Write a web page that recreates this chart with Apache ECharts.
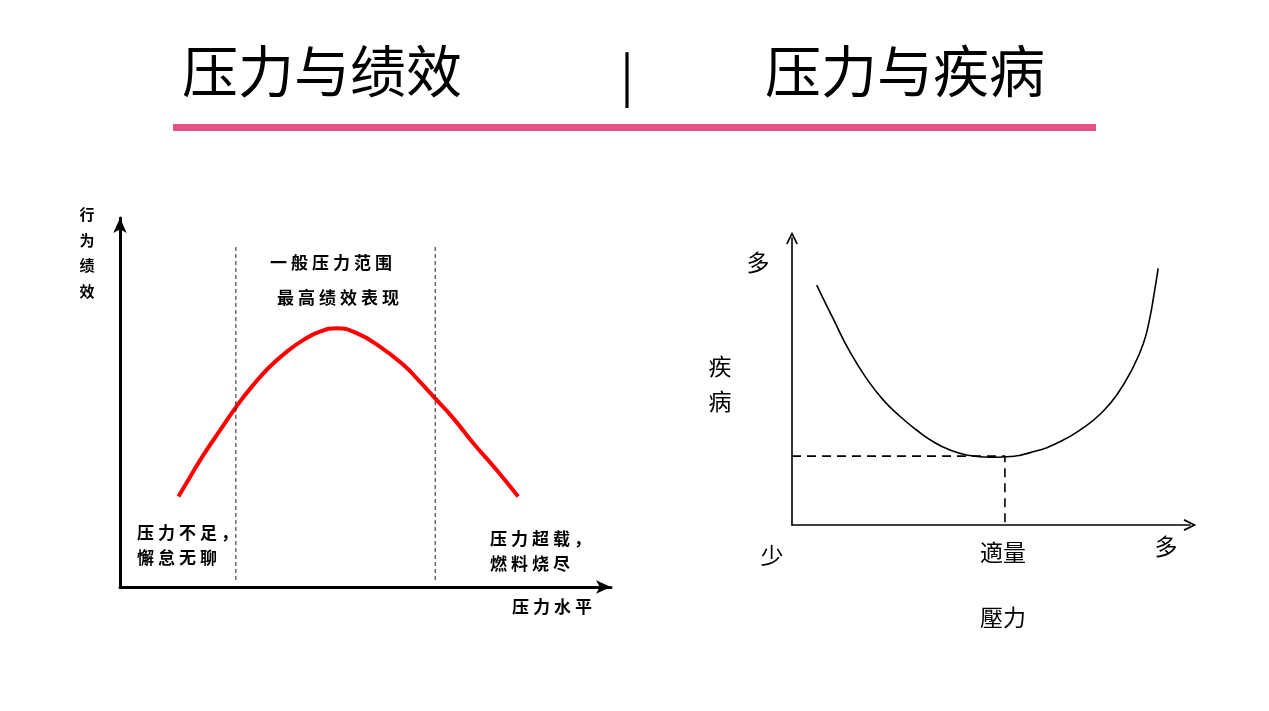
<!DOCTYPE html>
<html>
<head>
<meta charset="utf-8">
<script src="https://cdn.jsdelivr.net/npm/echarts@6/dist/echarts.min.js"></script>
<style>
  html, body { margin: 0; padding: 0; background: #fff; }
  #chart { width: 1269px; height: 711px; }
</style>
</head>
<body>
<div id="chart"></div>
<script>
// left chart: stress vs performance (x, y in 0..100)
const perfX = [11.9, 14.3, 17.0, 20.4, 23.8, 27.1, 30.5, 34.0, 37.3, 40.7, 44.1,
  48.2, 53.0, 57.7, 61.1, 64.2, 67.9, 72.0, 76.7, 81.1]
const perfY = [24.5, 29.9, 35.8, 42.5, 49.1, 54.7, 59.7, 63.8, 66.9, 69.2, 70.1,
  68.8, 65.1, 60.2, 55.6, 51.1, 45.7, 38.9, 31.7, 24.5]
const zoneX = [23.6, 64.2]
const zoneY = [1.9, 92.7]

// right chart: stress vs illness
const illX = [6.2, 10.4, 14.6, 18.8, 22.9, 27.1, 31.3, 35.5, 39.7, 43.9, 49.7,
  53.9, 60.6, 67.3, 73.2, 77.4, 81.6, 85.8, 88.3, 89.8, 91.0, 92.0]
const illY = [83.6, 71.7, 60.2, 50.9, 43.6, 37.9, 33.1, 29.0, 26.1, 24.4, 23.6,
  23.8, 25.5, 29.0, 33.9, 38.6, 45.3, 55.2, 63.3, 71.4, 80.7, 89.4]
const optimum = [53.5, 24.0]

const pair = (xs, ys) => xs.map((x, i) => [x, ys[i]])

const chevron = 'path://M0,10 L5,0 L10,10 L8.6,10.6 L5,3 L1.4,10.6 Z'
const CJK = '"Noto Sans CJK SC", "Noto Sans", sans-serif'

function axis (gridIndex, width, symbol, size) {
  return {
    type: 'value',
    gridIndex: gridIndex,
    min: 0,
    max: 100,
    axisLine: {
      show: true,
      symbol: ['none', symbol],
      symbolSize: size,
      lineStyle: { color: '#000', width: width }
    },
    axisTick: { show: false },
    axisLabel: { show: false },
    splitLine: { show: false }
  }
}

function label (text, x, y, size, opts) {
  opts = opts || {}
  const font = (opts.bold ? 'bold ' : '') + size + 'px ' + CJK
  const style = {
    text: text,
    x: x,
    y: y,
    font: font,
    fill: '#000',
    align: opts.align || 'center',
    verticalAlign: 'middle',
    textAlign: opts.align || 'center',
    textVerticalAlign: 'middle',
    lineHeight: opts.lineHeight || size
  }
  if (opts.gap) {
    // spread the glyphs a little, like the wide-set labels of the picture
    style.text = text.split('').map(c => c === '\n' ? '\n' : '{s|' + c + '}').join('')
    style.rich = {
      s: {
        font: font,
        fill: '#000',
        padding: [0, opts.gap / 2],
        lineHeight: opts.lineHeight || size
      }
    }
  }
  return { type: 'text', style: style }
}

const option = {
  animation: false,
  backgroundColor: '#fff',
  grid: [
    { left: 120, top: 218, width: 491, height: 369 },
    { left: 792, top: 238, width: 398, height: 287 }
  ],
  xAxis: [
    axis(0, 3, 'arrow', [10, 15]),
    axis(1, 1.6, chevron, [12, 14])
  ],
  yAxis: [
    axis(0, 3, 'arrow', [10, 15]),
    axis(1, 1.6, chevron, [12, 14])
  ],
  series: [
    {
      type: 'line',
      xAxisIndex: 0,
      yAxisIndex: 0,
      data: pair(perfX, perfY),
      smooth: 0.5,
      showSymbol: false,
      lineStyle: { color: '#ff0000', width: 4 }
    },
    {
      type: 'line',
      xAxisIndex: 0,
      yAxisIndex: 0,
      data: [[zoneX[0], zoneY[0]], [zoneX[0], zoneY[1]]],
      showSymbol: false,
      lineStyle: { color: '#222', width: 1, type: [4, 3] }
    },
    {
      type: 'line',
      xAxisIndex: 0,
      yAxisIndex: 0,
      data: [[zoneX[1], zoneY[0]], [zoneX[1], zoneY[1]]],
      showSymbol: false,
      lineStyle: { color: '#444', width: 1.2, type: [4, 3] }
    },
    {
      type: 'line',
      xAxisIndex: 1,
      yAxisIndex: 1,
      data: pair(illX, illY),
      smooth: 0.5,
      showSymbol: false,
      lineStyle: { color: '#000', width: 1.6 }
    },
    {
      type: 'line',
      xAxisIndex: 1,
      yAxisIndex: 1,
      data: [[0, optimum[1]], optimum, [optimum[0], 0]],
      showSymbol: false,
      lineStyle: { color: '#000', width: 1.6, type: [9, 6] }
    }
  ],
  graphic: [
    label('压力与绩效', 322, 71, 56),
    label('|', 627, 75, 50),
    label('压力与疾病', 905, 71, 56),
    {
      type: 'rect',
      shape: { x: 173, y: 124, width: 923, height: 7 },
      style: { fill: '#e5527f' }
    },
    // left chart labels
    label('行\n为\n绩\n效', 87, 253, 15, { bold: true, lineHeight: 25.5 }),
    label('一般压力范围', 331, 263, 17, { bold: true, gap: 4 }),
    label('最高绩效表现', 338, 298, 17, { bold: true, gap: 4 }),
    label('压力不足，\n懈怠无聊', 135, 545, 17, { bold: true, align: 'left', lineHeight: 25, gap: 4 }),
    label('压力超载，\n燃料烧尽', 488, 551, 17, { bold: true, align: 'left', lineHeight: 25, gap: 4 }),
    label('压力水平', 552, 607, 17, { bold: true, gap: 4 }),
    // right chart labels
    label('多', 758, 262, 23),
    label('疾\n病', 720, 384, 23, { lineHeight: 35 }),
    label('少', 772, 555, 23),
    label('適量', 1003, 552, 23),
    label('多', 1166, 546, 23),
    label('壓力', 1003, 617, 23)
  ]
}

const chart = echarts.init(document.getElementById('chart'))
chart.setOption(option)
</script>
</body>
</html>
